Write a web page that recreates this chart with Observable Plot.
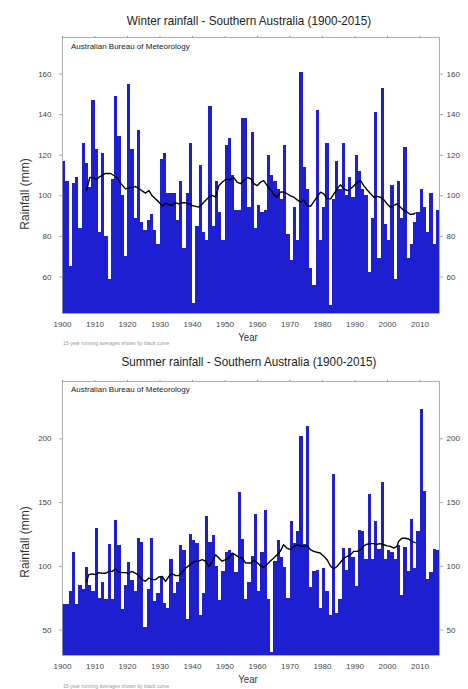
<!DOCTYPE html>
<html><head><meta charset="utf-8">
<script src="https://cdn.jsdelivr.net/npm/d3@7"></script>
<script src="https://cdn.jsdelivr.net/npm/@observablehq/plot@0.6"></script>
<style>
body{margin:0;background:#fff;}
#wrap{position:relative;width:468px;height:689px;overflow:hidden;font-family:"Liberation Sans",Arial,sans-serif;}
.t{position:absolute;white-space:nowrap;}
.p{position:absolute;left:0;}
</style></head><body><div id="wrap"></div>
<script>
// ---- data ----
const firstYear = 1900, lastYear = 2015;
const years = d3.range(firstYear, lastYear + 1);
const xTicks = [1900,1910,1920,1930,1940,1950,1960,1970,1980,1990,2000,2010];
const winterTicks = [60,80,100,120,140,160];
const summerTicks = [50,100,150,200];

const winterRain = [
117,107,65,106,109,84,126,116,104,147,
123,82,121,80,59,108,149,129,100,70,
155,123,89,132,87,83,88,91,83,76,
118,121,101,101,101,88,107,74,101,126,
47,85,115,82,78,144,85,107,92,78,
125,128,110,93,93,138,138,94,131,84,
95,92,93,120,110,107,103,98,125,81,
68,94,78,161,114,103,64,56,142,78,
94,126,46,98,117,103,126,100,109,99,
120,112,103,100,62,89,141,69,153,86,
78,105,59,107,89,124,69,76,87,92,
103,94,82,101,76,93];

const summerRain = [
70,70,80,111,70,85,82,99,85,80,
130,75,87,74,117,74,136,116,66,85,
103,89,80,122,119,52,82,122,72,79,
91,71,67,105,79,87,116,112,58,125,
120,118,61,79,139,119,124,100,73,96,
111,112,110,95,158,121,74,87,108,141,
80,111,144,74,32,104,120,107,99,75,
135,118,127,202,117,210,83,96,97,67,
98,80,61,172,63,74,114,97,114,107,
84,128,127,105,156,105,135,113,166,105,
112,111,105,116,77,115,96,137,98,127,
223,159,90,95,113,112];

// running-average curves (x = position in years, value in mm)
const winterAvgX = [1907.4,1908.4,1909.4,1910.5,1911.5,1913.2,1914.8,1915.8,1916.8,1918,1919.4,1920.9,1922.5,1924,1925.5,1926.6,1927.6,1928.6,1929.6,1930.7,1931.7,1932.7,1933.7,1934.8,1935.8,1936.8,1937.8,1938.9,1939.9,1940.9,1941.9,1943,1944,1945,1946.1,1947.1,1948.1,1949.1,1950.2,1951.7,1952.7,1953.7,1954.8,1955.8,1956.8,1957.9,1958.9,1959.9,1960.9,1961.9,1963,1964,1965,1966,1967,1968.1,1969.1,1970.2,1971.2,1972.2,1973.2,1974.2,1975.3,1976.3,1977.3,1978.3,1979.4,1980.4,1981.4,1982.5,1983.5,1984.5,1985.5,1986.6,1987.6,1988.6,1989.6,1990.7,1991.7,1992.7,1993.7,1994.8,1995.8,1996.8,1997.8,1998.9,1999.9,2000.9,2001.9,2002.9,2004,2005,2006,2007,2008,2008.5];
const winterAvg = [102.6,109,109,108,109.5,111,111,110,109,106,103.4,104,104.6,103,101.3,102.6,100,98.5,97,95,96.4,95.7,95.2,96.6,96,96.6,96.6,96,95.2,94.8,94.4,96,97.7,99.3,100.2,99.3,105,106.7,108,108,109,106.7,106,107.5,109,108.4,106,105,106.7,107.5,105,103,100.7,99.3,101.8,102,101,100,99.3,98,97,97.7,95.2,94.8,97,99.3,101.8,101,98.5,98.5,101,103.4,105.4,103.4,102.6,103.4,104.8,106.7,107.5,105,103,101,99.3,99.7,99.3,98,96,94.4,95.2,96,94.4,92.8,92,90.8,91,91.5];

const summerAvgX = [1907.4,1908.1,1909.1,1910.2,1911.2,1912.2,1913.2,1914.3,1915.3,1916.3,1917.3,1918.4,1919.4,1920.4,1921.4,1922.5,1923.5,1924.5,1925.5,1926.6,1927.6,1928.6,1929.6,1930.7,1931.7,1932.7,1933.7,1934.8,1935.8,1936.8,1937.8,1938.9,1939.9,1940.9,1941.9,1943,1944,1945,1946,1947.1,1948.1,1949.1,1950.2,1951.2,1952.2,1953.2,1954.3,1955.3,1956.3,1957.9,1958.9,1959.9,1960.9,1961.9,1962.9,1963.9,1965,1966,1967,1968,1969,1970.2,1971.2,1972.2,1973.2,1974.2,1975.3,1976.3,1977.3,1978.3,1979.3,1980.4,1981.4,1982.5,1983.5,1984.5,1985.5,1986.6,1987.6,1988.6,1989.6,1990.7,1991.7,1992.7,1993.7,1994.8,1995.8,1996.8,1997.8,1998.9,1999.9,2000.9,2001.9,2002.9,2003.4,2004.4,2005.5,2006.5,2007.5,2008.5];
const summerAvg = [88,93.5,94,93.5,95,94.5,94.5,96,96,98,95.3,95,95,94.5,96,94.5,92.7,89.5,88.2,90.8,89.5,89.5,91.6,92,88.2,92,94.2,92.7,92.7,95.3,98.4,100.5,102.6,104,104,105.2,104,100,103,109,106.5,104,105.2,106.5,110.4,109,107,106.5,102.6,102.6,104.7,103,100.5,99.2,101.3,104,106.5,109,111.7,116.9,114.3,113,115.6,116.9,116,115.6,116,113,111.7,111,110.4,107.8,105.2,100,97.9,100,103,106.5,107.8,109,111.7,111.7,113,116,117.3,117.8,117.8,117.3,117.8,116.9,116,115.6,114.3,115.6,119.5,122,122,121.4,119.5,118.5];

// ---- text helper ----
const wrap = document.getElementById("wrap");
function txt(s, o) {
  const d = document.createElement("div");
  d.className = "t";
  d.textContent = s;
  const size = o.size;
  d.style.fontSize = size + "px";
  d.style.lineHeight = size + "px";
  d.style.color = o.color || "#222";
  d.style.left = o.x + "px";
  d.style.top = (o.y - 0.49 * size) + "px";
  const sx = o.sx || 1;
  if (o.rotate) {
    d.style.transform = `translate(-50%,0) rotate(${o.rotate}deg) scaleX(${sx})`;
  } else if (o.anchor === "start") {
    d.style.transformOrigin = "0 50%";
    d.style.transform = `scaleX(${sx})`;
  } else {
    d.style.transform = `translate(-50%,0) scaleX(${sx})`;
  }
  wrap.appendChild(d);
}

const blue = "#1f1fd2";

function panel(values, avgX, avg, yDomain, yTicks, top, height, mTop, mBottom) {
  const data = years.map((yr, i) => ({yr, v: values[i]}));
  const line = avgX.map((x, i) => ({x, v: avg[i]}));
  const chart = Plot.plot({
    width: 468, height, marginTop: mTop, marginBottom: mBottom, marginLeft: 62, marginRight: 29,
    style: {fontFamily: "Liberation Sans, Arial, sans-serif", fontSize: "8px", color: "#444", background: "transparent", overflow: "visible"},
    x: {domain: [1900, 2016], axis: null},
    y: {domain: yDomain, clamp: true, axis: null},
    marks: [
      Plot.rectY(data, {x1: "yr", x2: d => d.yr + 1, y1: 0, y2: "v", fill: blue, shapeRendering: "crispEdges"}),
      Plot.line(line, {x: "x", y: "v", stroke: "#000", strokeWidth: 1.4}),
      Plot.frame({stroke: "#9a9a9a", strokeWidth: 0.8}),
      Plot.axisX({ticks: xTicks, tickSize: 0, tickPadding: 8, tickFormat: d => String(d), label: null, fill: "#444"}),
      Plot.axisX({anchor: "top", ticks: xTicks, tickSize: 2, tickFormat: () => "", label: null, stroke: "#999"}),
      Plot.axisY({anchor: "left", ticks: yTicks, tickSize: 3, tickPadding: 8, label: null, fill: "#444", stroke: "#aaa"}),
      Plot.axisY({anchor: "right", ticks: yTicks, tickSize: 3, tickPadding: 4, label: null, fill: "#444", stroke: "#aaa"})
    ]
  });
  chart.classList.add("p");
  chart.style.top = top + "px";
  wrap.appendChild(chart);
}

// Winter panel
txt("Winter rainfall - Southern Australia (1900-2015)", {x: 249, y: 20.5, size: 13, sx: 0.9});
panel(winterRain, winterAvgX, winterAvg, [42, 178], winterTicks, 0, 340, 37, 27);
txt("Australian Bureau of Meteorology", {x: 71, y: 46.5, size: 8, anchor: "start", color: "#222"});
txt("Rainfall (mm)", {x: 25, y: 194, size: 12, rotate: -90, color: "#333"});
txt("Year", {x: 248, y: 337, size: 11, sx: 0.87, color: "#333"});
txt("15-year running averages shown by black curve", {x: 63, y: 343, size: 5, anchor: "start", color: "#999"});

// Summer panel
txt("Summer rainfall - Southern Australia (1900-2015)", {x: 249, y: 361.7, size: 13, sx: 0.9});
panel(summerRain, summerAvgX, summerAvg, [30, 245], summerTicks, 344, 345, 37, 34);
txt("Australian Bureau of Meteorology", {x: 71, y: 389.5, size: 8, anchor: "start", color: "#222"});
txt("Rainfall (mm)", {x: 25, y: 542, size: 12, rotate: -90, color: "#333"});
txt("Year", {x: 248, y: 679.3, size: 11, sx: 0.87, color: "#333"});
txt("15-year running averages shown by black curve", {x: 63, y: 686.5, size: 5, anchor: "start", color: "#999"});
</script>
</body></html>
